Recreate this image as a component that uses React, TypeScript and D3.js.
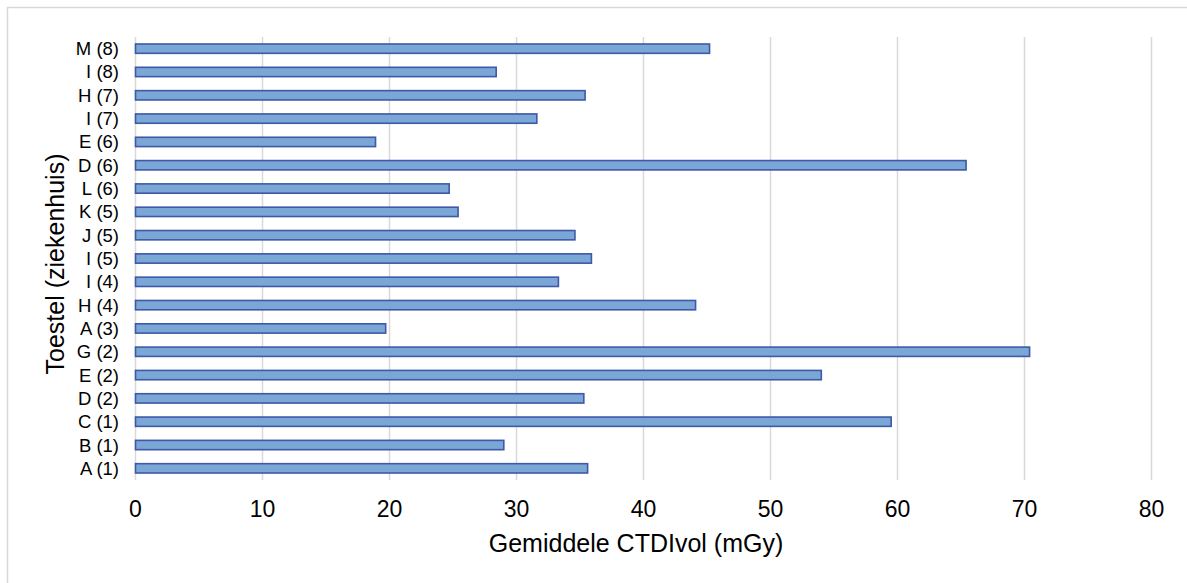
import React from "react";
import * as d3 from "d3";

const categories = [
  "A (1)", "B (1)", "C (1)", "D (2)", "E (2)", "G (2)", "A (3)", "H (4)", "I (4)", "I (5)",
  "J (5)", "K (5)", "L (6)", "D (6)", "E (6)", "I (7)", "H (7)", "I (8)", "M (8)",
];
const values = [
  35.6, 29.0, 59.5, 35.3, 54.0, 70.4, 19.7, 44.1, 33.3, 35.9,
  34.6, 25.4, 24.7, 65.4, 18.9, 31.6, 35.4, 28.4, 45.2,
];
const xTicks = [0, 10, 20, 30, 40, 50, 60, 70, 80];
const xTitle = "Gemiddele CTDIvol (mGy)";
const yTitle = "Toestel (ziekenhuis)";

const W = 1187;
const H = 583;
const FONT = "'Liberation Sans', Arial, sans-serif";

export default function App() {
  const x = d3.scaleLinear().domain([0, 80]).range([135.5, 1151.5]);
  const y = d3
    .scaleBand<string>()
    .domain([...categories].reverse())
    .range([37, 480])
    .paddingInner(0.6)
    .paddingOuter(0.3);
  const [y0, y1] = y.range();

  return (
    <svg
      width={W}
      height={H}
      style={{ position: "absolute", left: 0, top: 0, background: "#fff" }}
      fontFamily={FONT}
    >
      <rect x={7.5} y={7.5} width={W + 20} height={H + 20} fill="#fff" stroke="#d9d9d9" strokeWidth={1.5} />
      {xTicks.map((t) => (
        <line key={t} x1={x(t)} x2={x(t)} y1={y0} y2={y1} stroke="#d9d9d9" strokeWidth={1.5} />
      ))}
      {categories.map((c, i) => (
        <rect
          key={c}
          x={x(0)}
          y={y(c)!}
          width={x(values[i]) - x(0)}
          height={y.bandwidth()}
          fill="#7aa7d6"
          stroke="#3f58a8"
          strokeWidth={1.6}
        />
      ))}
      {categories.map((c) => (
        <text
          key={"l" + c}
          x={119}
          y={y(c)! + y.bandwidth() / 2}
          dy="0.35em"
          textAnchor="end"
          fontSize={18.5}
          fill="#000"
        >
          {c}
        </text>
      ))}
      {xTicks.map((t) => (
        <text key={"t" + t} x={x(t)} y={517} textAnchor="middle" fontSize={23} fill="#000">
          {t}
        </text>
      ))}
      <text x={636} y={552} textAnchor="middle" fontSize={25} fill="#000">
        {xTitle}
      </text>
      <text
        transform={`translate(64,264) rotate(-90)`}
        textAnchor="middle"
        fontSize={25}
        fill="#000"
      >
        {yTitle}
      </text>
    </svg>
  );
}
